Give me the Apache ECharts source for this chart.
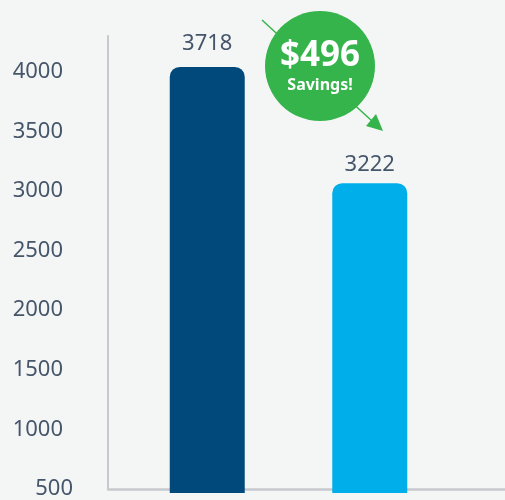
<!DOCTYPE html>
<html>
<head>
    <meta charset="utf-8">
    <title>Savings | ECharts</title>
    <script src="https://cdn.jsdelivr.net/npm/echarts@6/dist/echarts.min.js"></script>
    <style>
        html, body { margin: 0; padding: 0; background: #f4f6f5; }
    </style>
</head>
<body>
    <div id="main" style="width: 505px;height:500px;"></div>
    <script type="text/javascript">
        // data
        var categories = ['Before', 'After'];
        var barValues = [3718, 3222];
        var barColors = ['#01497b', '#00afe9'];
        var labelGaps = [12, 7];
        var tickLabels = [500, 1000, 1500, 2000, 2500, 3000, 3500, 4000];

        var textColor = '#46566a';
        var axisColor = '#c8c9ce';
        var savings = barValues[0] - barValues[1];

        var myChart = echarts.init(document.getElementById('main'));

        var option = {
            backgroundColor: '#f4f6f5',
            textStyle: { fontFamily: 'Open Sans' },
            grid: [
                // axes frame
                { left: 108, right: 0, top: 36, bottom: 7 },
                // bars
                { left: 126, right: 54, top: 36, bottom: 7 }
            ],
            xAxis: [
                {
                    type: 'category', gridIndex: 0, data: [''],
                    axisLine: { lineStyle: { color: axisColor, width: 2.5 } },
                    axisTick: { show: false },
                    axisLabel: { show: false }
                },
                {
                    type: 'category', gridIndex: 1, data: categories,
                    show: false
                }
            ],
            yAxis: [
                {
                    type: 'value', gridIndex: 0,
                    min: tickLabels[0], max: 4300, interval: 500,
                    axisLine: { show: true, lineStyle: { color: axisColor, width: 2 } },
                    axisTick: { show: false },
                    splitLine: { show: false },
                    axisLabel: {
                        showMaxLabel: false,
                        margin: 35,
                        formatter: function (v) {
                            if (tickLabels.indexOf(v) < 0) return '';
                            return v === tickLabels[0] ? '{a|' + v + '}' : '{b|' + v + '}';
                        },
                        rich: {
                            a: { fontSize: 22, color: textColor, fontFamily: 'Noto Sans' },
                            b: { fontSize: 22, color: textColor, fontFamily: 'Noto Sans', padding: [0, 10, 0, 0] }
                        }
                    }
                },
                {
                    type: 'value', gridIndex: 1,
                    min: 1900, max: 3850,
                    show: false,
                    splitLine: { show: false }
                }
            ],
            series: [
                {
                    type: 'bar',
                    xAxisIndex: 1,
                    yAxisIndex: 1,
                    barWidth: 75,
                    data: barValues.map(function (v, i) {
                        return {
                            value: v,
                            itemStyle: { color: barColors[i] },
                            label: { distance: labelGaps[i] }
                        };
                    }),
                    itemStyle: { borderRadius: [10, 10, 0, 0] },
                    label: {
                        show: true,
                        position: 'top',
                        fontSize: 22,
                        color: textColor,
                        fontFamily: 'Noto Sans'
                    }
                }
            ],
            graphic: [
                {
                    type: 'line',
                    shape: { x1: 262, y1: 20, x2: 372, y2: 121 },
                    style: { stroke: '#35b44b', lineWidth: 1.5 }
                },
                {
                    type: 'polygon',
                    shape: { points: [[366, 126], [376, 114], [383, 131]] },
                    style: { fill: '#35b44b' }
                },
                {
                    type: 'circle',
                    shape: { cx: 320, cy: 66, r: 55 },
                    style: { fill: '#35b44b' }
                },
                {
                    type: 'text',
                    x: 320, y: 56,
                    style: {
                        text: '$' + savings,
                        fill: '#ffffff',
                        font: 'bold 35px "Noto Sans"',
                        textAlign: 'center',
                        textVerticalAlign: 'middle'
                    }
                },
                {
                    type: 'text',
                    x: 320, y: 85,
                    style: {
                        text: 'Savings!',
                        fill: '#ffffff',
                        font: 'bold 16px "Noto Sans"',
                        textAlign: 'center',
                        textVerticalAlign: 'middle'
                    }
                }
            ]
        };

        myChart.setOption(option);
    </script>
</body>
</html>
